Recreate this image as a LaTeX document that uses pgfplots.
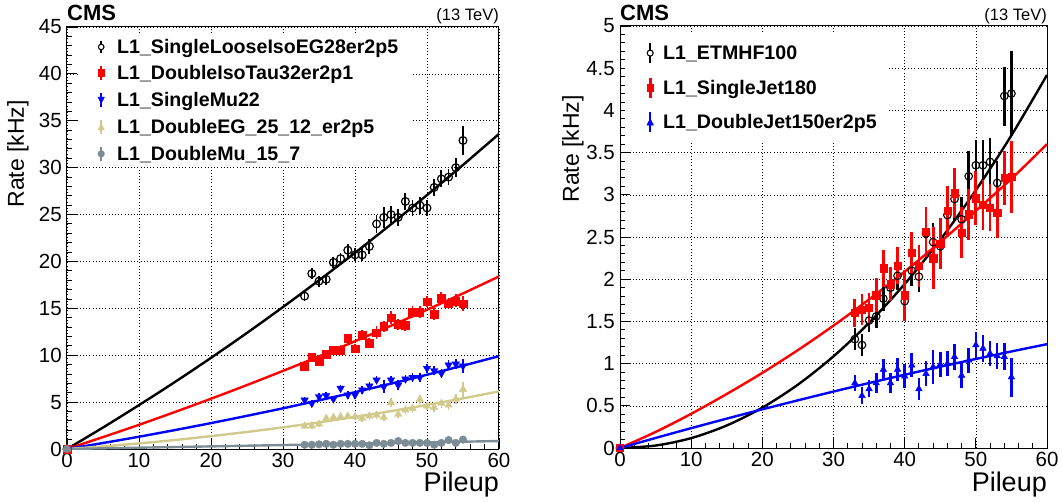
\documentclass[border=0pt]{standalone}
\usepackage{fontspec}
\setmainfont{Liberation Sans}
\usepackage{pgfplots}
\pgfplotsset{compat=1.18}
\definecolor{khaki}{RGB}{210,202,140}
\definecolor{slate}{RGB}{124,140,148}
\pgfplotsset{
  cms/.style={
    scale only axis, height=422pt,
    xmin=0, xmax=60, xtick={0,10,...,60}, minor x tick num=4,
    tick align=inside, xtick pos=bottom, ytick pos=left,
    grid=major, major grid style={black, dash pattern=on 1pt off 2.2pt, line width=0.6pt},
    axis line style={line width=1pt},
    major tick length=10pt, minor tick length=5pt,
    every tick/.style={black, line width=0.9pt},
    tick label style={font=\fontsize{20.5}{20.5}\selectfont},
    /pgf/number format/assume math mode=true,
    xticklabel style={inner sep=0pt, yshift=-4pt},
    yticklabel style={inner sep=0pt, xshift=-5pt},
    legend cell align=left,
    error bars/error mark=none,
  },
  fit/.style={no marks, smooth, line width=2.4pt, forget plot},
}
\begin{document}
\begin{tikzpicture}
%================ LEFT =================
\begin{axis}[cms, name=L, width=432pt,
  ymin=0, ymax=45, ytick={0,5,...,45}, minor y tick num=4,
  legend style={at={(rel axis cs:0,1)}, anchor=north west, xshift=13pt, yshift=-8pt,
    draw=none, fill=white, inner xsep=12pt, inner ysep=5pt, row sep=11.4pt,
    font=\bfseries\fontsize{19.6}{19.6}\selectfont,
    nodes={inner sep=0pt, text height=13pt, text depth=0pt}},
]
\addplot[fit, black] coordinates {(0,0) (5,2.29) (10,4.68) (15,7.15) (20,9.72) (25,12.38) (30,15.14) (35,17.99) (40,20.92) (45,23.96) (50,27.08) (55,30.29) (60,33.6)};
\addplot[fit, red] coordinates {(0,0) (5,1.27) (10,2.58) (15,3.95) (20,5.36) (25,6.82) (30,8.33) (35,9.88) (40,11.49) (45,13.14) (50,14.85) (55,16.59) (60,18.4)};
\addplot[fit, blue] coordinates {(0,0) (5,0.64) (10,1.31) (15,2.02) (20,2.76) (25,3.54) (30,4.34) (35,5.19) (40,6.06) (45,6.97) (50,7.92) (55,8.89) (60,9.9)};
\addplot[fit, khaki] coordinates {(0,0) (5,0.28) (10,0.6) (15,0.96) (20,1.37) (25,1.82) (30,2.31) (35,2.84) (40,3.42) (45,4.04) (50,4.70) (55,5.40) (60,6.15)};
\addplot[fit, slate] coordinates {(0,0) (30,0.42) (60,0.85)};

\addplot[only marks, black, mark=o, mark size=3.9pt, mark options={fill=white, line width=1.2pt},
  legend image code/.code={\draw[black,line width=1.5pt] (0pt,-6pt)--(0pt,-3pt) (0pt,3pt)--(0pt,6pt); \draw[black,fill=white,line width=1.1pt] (0pt,0pt) circle (2.8pt); \path[draw=none,fill=none] (-9pt,0pt)--(16pt,0pt);},
  error bars/.cd, y dir=both, y explicit, error bar style={line width=1.8pt, black}]
  coordinates {(0,0)+-(0,0) (33,16.3)+-(0,0.5) (34,18.7)+-(0,0.6) (35,17.9)+-(0,0.6) (36,18.1)+-(0,0.6) (37,19.9)+-(0,0.6) (38,20.3)+-(0,0.6) (39,21.2)+-(0,0.7) (40,20.7)+-(0,0.7) (41,20.7)+-(0,0.7) (42,21.6)+-(0,0.8) (43,24.0)+-(0,1.0) (44,24.7)+-(0,1.1) (45,25.0)+-(0,0.9) (46,24.7)+-(0,0.9) (47,26.4)+-(0,0.9) (48,25.7)+-(0,0.9) (49,26.0)+-(0,0.9) (50,25.7)+-(0,0.9) (51,27.9)+-(0,0.9) (52,28.8)+-(0,0.9) (53,29.0)+-(0,0.9) (54,30.0)+-(0,1.0) (55,32.9)+-(0,1.5)};
\addlegendentry{L1\_SingleLooseIsoEG28er2p5}
\addplot[only marks, red, mark=square*, mark size=3.9pt,
  legend image code/.code={\draw[red,line width=1.8pt] (0pt,-7pt)--(0pt,7pt); \fill[red] (-3.3pt,-3.3pt) rectangle (3.3pt,3.3pt); \path[draw=none,fill=none] (-9pt,0pt)--(16pt,0pt);},
  error bars/.cd, y dir=both, y explicit, error bar style={line width=1.8pt, red}]
  coordinates {(0,0)+-(0,0) (33,8.85)+-(0,0.4) (34,9.78)+-(0,0.45) (35,9.38)+-(0,0.45) (36,10.1)+-(0,0.45) (37,10.5)+-(0,0.45) (38,10.55)+-(0,0.5) (39,11.8)+-(0,0.5) (40,10.7)+-(0,0.5) (41,12.15)+-(0,0.55) (42,11.3)+-(0,0.5) (43,12.4)+-(0,0.7) (44,13.1)+-(0,0.6) (45,14.0)+-(0,0.7) (46,13.3)+-(0,0.6) (47,13.2)+-(0,0.6) (48,14.6)+-(0,0.6) (49,14.6)+-(0,0.6) (50,15.7)+-(0,0.6) (51,14.4)+-(0,0.6) (52,16.1)+-(0,0.6) (53,15.5)+-(0,0.6) (54,15.8)+-(0,0.7) (55,15.5)+-(0,0.8)};
\addlegendentry{L1\_DoubleIsoTau32er2p1}
\addplot[only marks, blue, mark=triangle*, mark size=4.3pt, mark options={rotate=180},
  legend image code/.code={\draw[blue,line width=1.5pt] (0pt,-7pt)--(0pt,7pt); \fill[blue] (-3.3pt,3pt)--(3.3pt,3pt)--(0pt,-3.5pt)--cycle; \path[draw=none,fill=none] (-9pt,0pt)--(16pt,0pt);},
  error bars/.cd, y dir=both, y explicit, error bar style={line width=1.6pt, blue}]
  coordinates {(0,0)+-(0,0) (33,5.22)+-(0,0.35) (34,4.87)+-(0,0.35) (35,5.58)+-(0,0.35) (36,5.69)+-(0,0.35) (37,5.33)+-(0,0.35) (38,6.47)+-(0,0.4) (39,5.76)+-(0,0.4) (40,5.76)+-(0,0.4) (41,6.29)+-(0,0.4) (42,6.72)+-(0,0.45) (43,7.36)+-(0,0.45) (44,6.64)+-(0,0.7) (45,7.36)+-(0,0.45) (46,6.82)+-(0,0.5) (47,7.46)+-(0,0.45) (48,7.64)+-(0,0.45) (49,7.64)+-(0,0.5) (50,8.6)+-(0,0.5) (51,8.35)+-(0,0.5) (52,8.07)+-(0,0.5) (53,8.96)+-(0,0.5) (54,9.06)+-(0,0.5) (55,8.85)+-(0,0.7)};
\addlegendentry{L1\_SingleMu22}
\addplot[only marks, khaki, mark=triangle*, mark size=4.3pt,
  legend image code/.code={\draw[khaki,line width=1.5pt] (0pt,-7pt)--(0pt,7pt); \fill[khaki] (-3.3pt,-3pt)--(3.3pt,-3pt)--(0pt,3.5pt)--cycle; \path[draw=none,fill=none] (-9pt,0pt)--(16pt,0pt);},
  error bars/.cd, y dir=both, y explicit, error bar style={line width=1.6pt, khaki}]
  coordinates {(0,0)+-(0,0) (33,2.45)+-(0,0.3) (34,2.45)+-(0,0.3) (35,2.67)+-(0,0.3) (36,3.27)+-(0,0.35) (37,3.38)+-(0,0.35) (38,3.45)+-(0,0.35) (39,3.52)+-(0,0.35) (40,3.45)+-(0,0.35) (41,3.27)+-(0,0.35) (42,3.52)+-(0,0.4) (43,3.62)+-(0,0.4) (44,3.38)+-(0,0.4) (45,4.94)+-(0,0.45) (46,3.7)+-(0,0.4) (47,4.16)+-(0,0.4) (48,4.33)+-(0,0.45) (49,5.3)+-(0,0.5) (50,4.58)+-(0,0.45) (51,4.44)+-(0,0.45) (52,4.87)+-(0,0.5) (53,4.69)+-(0,0.5) (54,5.33)+-(0,0.55) (55,6.36)+-(0,0.8)};
\addlegendentry{L1\_DoubleEG\_25\_12\_er2p5}
\addplot[only marks, slate, mark=*, mark size=3.8pt,
  legend image code/.code={\draw[slate,line width=1.5pt] (0pt,-7pt)--(0pt,7pt); \fill[slate] (0pt,0pt) circle (3.3pt); \path[draw=none,fill=none] (-9pt,0pt)--(16pt,0pt);},
  error bars/.cd, y dir=both, y explicit, error bar style={line width=1.6pt, slate}]
  coordinates {(0,0)+-(0,0) (33,0.45)+-(0,0.15) (34,0.45)+-(0,0.15) (35,0.5)+-(0,0.15) (36,0.55)+-(0,0.15) (37,0.45)+-(0,0.15) (38,0.55)+-(0,0.15) (39,0.55)+-(0,0.15) (40,0.55)+-(0,0.15) (41,0.55)+-(0,0.15) (42,0.4)+-(0,0.2) (43,0.65)+-(0,0.2) (44,0.55)+-(0,0.2) (45,0.65)+-(0,0.2) (46,0.85)+-(0,0.2) (47,0.65)+-(0,0.2) (48,0.65)+-(0,0.2) (49,0.65)+-(0,0.2) (50,0.65)+-(0,0.2) (51,0.45)+-(0,0.2) (52,0.65)+-(0,0.2) (53,0.95)+-(0,0.2) (54,0.65)+-(0,0.2) (55,1.0)+-(0,0.25)};
\addlegendentry{L1\_DoubleMu\_15\_7}
\end{axis}
%================ RIGHT =================
\begin{axis}[cms, name=R, width=427pt, at={(553pt,1pt)}, anchor=south west,
  ymin=0, ymax=5, ytick={0,0.5,...,5}, minor y tick num=4,
  legend style={at={(rel axis cs:0,1)}, anchor=north west, xshift=5pt, yshift=-6pt,
    draw=none, fill=white, inner xsep=12pt, inner ysep=10pt, row sep=12.3pt,
    font=\bfseries\fontsize{19.6}{19.6}\selectfont,
    nodes={inner sep=0pt, text height=13pt, text depth=0pt}},
]
\addplot[fit, black] coordinates {(0,0) (5,0.029) (10,0.117) (15,0.267) (20,0.478) (25,0.751) (30,1.086) (35,1.483) (40,1.943) (45,2.466) (50,3.055) (55,3.704) (60,4.42)};
\addplot[fit, red] coordinates {(0,0) (5,0.19) (10,0.405) (15,0.64) (20,0.89) (25,1.16) (30,1.45) (35,1.76) (40,2.09) (45,2.44) (50,2.81) (55,3.19) (60,3.6)};
\addplot[fit, blue] coordinates {(0,0) (5,0.119) (10,0.235) (15,0.348) (20,0.458) (25,0.565) (30,0.669) (35,0.770) (40,0.868) (45,0.963) (50,1.055) (55,1.144) (60,1.23)};

\addplot[only marks, black, mark=o, mark size=3.8pt, mark options={fill=white, line width=1.1pt},
  legend image code/.code={\draw[black,line width=1.8pt] (0pt,-10pt)--(0pt,-3pt) (0pt,3pt)--(0pt,10pt); \draw[black,fill=white,line width=1.1pt] (0pt,0pt) circle (3pt); \path[draw=none,fill=none] (-13pt,0pt)--(13pt,0pt);},
  error bars/.cd, y dir=both, y explicit, error bar style={line width=2.6pt, black}]
  coordinates {(0,0)+-(0,0) (33,1.29)+-(0,0.13) (34,1.22)+-(0,0.13) (35,1.51)+-(0,0.14) (36,1.56)+-(0,0.14) (37,1.77)+-(0,0.15) (38,1.9)+-(0,0.16) (39,2.04)+-(0,0.17) (40,1.74)+-(0,0.17) (41,2.10)+-(0,0.18) (42,2.03)+-(0,0.18) (43,2.54)+-(0,0.22) (44,2.44)+-(0,0.22) (45,2.39)+-(0,0.22) (46,2.76)+-(0,0.25) (47,2.95)+-(0,0.26) (48,2.71)+-(0,0.26) (49,3.22)+-(0,0.3) (50,3.35)+-(0,0.3) (51,3.35)+-(0,0.3) (52,3.39)+-(0,0.28) (53,3.14)+-(0,0.26) (54,4.17)+-(0,0.35) (55,4.2)+-(0,0.5)};
\addlegendentry{L1\_ETMHF100}
\addplot[only marks, red, mark=square*, mark size=3.6pt,
  legend image code/.code={\draw[red,line width=2.6pt] (0pt,-10pt)--(0pt,10pt); \fill[red] (-3.3pt,-3.3pt) rectangle (3.3pt,3.3pt); \path[draw=none,fill=none] (-13pt,0pt)--(13pt,0pt);},
  error bars/.cd, y dir=both, y explicit, error bar style={line width=2.8pt, red}]
  coordinates {(0,0)+-(0,0) (33,1.60)+-(0,0.17) (34,1.64)+-(0,0.18) (35,1.66)+-(0,0.18) (36,1.81)+-(0,0.2) (37,2.13)+-(0,0.22) (38,1.94)+-(0,0.2) (39,2.16)+-(0,0.22) (40,1.81)+-(0,0.3) (41,2.31)+-(0,0.25) (42,2.16)+-(0,0.25) (43,2.56)+-(0,0.3) (44,2.25)+-(0,0.37) (45,2.42)+-(0,0.3) (46,2.81)+-(0,0.3) (47,3.02)+-(0,0.3) (48,2.55)+-(0,0.3) (49,2.77)+-(0,0.3) (50,2.96)+-(0,0.32) (51,2.88)+-(0,0.3) (52,2.85)+-(0,0.28) (53,2.79)+-(0,0.3) (54,3.20)+-(0,0.32) (55,3.21)+-(0,0.43)};
\addlegendentry{L1\_SingleJet180}
\addplot[only marks, blue, mark=triangle*, mark size=3.8pt,
  legend image code/.code={\draw[blue,line width=1.8pt] (0pt,-10pt)--(0pt,10pt); \fill[blue] (-3.3pt,-3pt)--(3.3pt,-3pt)--(0pt,3.5pt)--cycle; \path[draw=none,fill=none] (-13pt,0pt)--(13pt,0pt);},
  error bars/.cd, y dir=both, y explicit, error bar style={line width=2.6pt, blue}]
  coordinates {(0,0)+-(0,0) (33,0.77)+-(0,0.1) (34,0.62)+-(0,0.1) (35,0.70)+-(0,0.1) (36,0.77)+-(0,0.12) (37,0.93)+-(0,0.13) (38,0.77)+-(0,0.12) (39,0.93)+-(0,0.14) (40,0.85)+-(0,0.14) (41,0.98)+-(0,0.14) (42,0.70)+-(0,0.13) (43,0.88)+-(0,0.15) (44,0.96)+-(0,0.2) (45,0.99)+-(0,0.15) (46,1.0)+-(0,0.15) (47,1.08)+-(0,0.15) (48,0.86)+-(0,0.15) (49,1.04)+-(0,0.15) (50,1.22)+-(0,0.16) (51,1.18)+-(0,0.16) (52,1.12)+-(0,0.15) (53,1.09)+-(0,0.15) (54,1.08)+-(0,0.16) (55,0.84)+-(0,0.23)};
\addlegendentry{L1\_DoubleJet150er2p5}
\end{axis}
%================ labels =================
\node[anchor=base west, inner sep=0pt, font=\bfseries\fontsize{22}{22}\selectfont] at ([yshift=6pt]L.north west) {CMS};
\node[anchor=base east, inner sep=0pt, font=\fontsize{16.5}{16.5}\selectfont] at ([yshift=6pt]L.north east) {(13 TeV)};
\node[anchor=base west, inner sep=0pt, font=\bfseries\fontsize{22}{22}\selectfont] at ([yshift=5.5pt]R.north west) {CMS};
\node[anchor=base east, inner sep=0pt, font=\fontsize{16.5}{16.5}\selectfont] at ([yshift=5.5pt]R.north east) {(13 TeV)};
\node[rotate=90, anchor=north east, inner sep=0pt, font=\fontsize{23}{23}\selectfont] at (-60pt,349pt) {Rate [kHz]};
\node[rotate=90, anchor=north east, inner sep=0pt, font=\fontsize{23}{23}\selectfont] at (495pt,354pt) {Rate [kHz]};
\node[anchor=north east, inner sep=0pt, font=\fontsize{27}{27}\selectfont] at ([yshift=-23pt]L.south east) {Pileup};
\node[anchor=north east, inner sep=0pt, font=\fontsize{27}{27}\selectfont] at ([yshift=-24pt]R.south east) {Pileup};
\pgfresetboundingbox
\path (-67pt,-52pt) rectangle (995pt,449pt);
\end{tikzpicture}
\end{document}
